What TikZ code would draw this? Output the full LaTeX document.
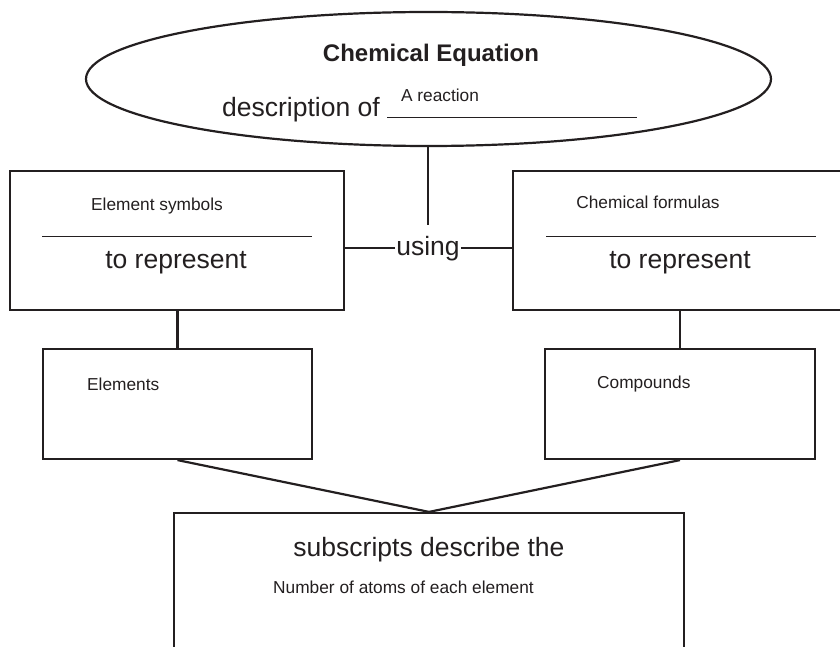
\documentclass[tikz,border=0pt]{standalone}
\usepackage{fontspec}
\setmainfont{Liberation Sans}
\usetikzlibrary{shapes.geometric,positioning}
\definecolor{ink}{HTML}{231F20}

\begin{document}
\begin{tikzpicture}[x=1pt,y=-1pt,color=ink,
 big/.style={font=\fontsize{26.5}{30}\selectfont,inner sep=0pt},
 small/.style={font=\fontsize{17.3}{20}\selectfont,inner sep=0pt},
 frame/.style={draw=ink,line width=2.2pt,inner sep=0pt},
 link/.style={draw=ink,line width=2.2pt},
 rule/.style={draw=ink,line width=1pt}]
 \useasboundingbox (0,0) rectangle (840,647);
 \clip (0,0) rectangle (840,647);
 % top ellipse
 \node[frame,ellipse,minimum width=685pt,minimum height=134pt] (eq) at (428.5,79) {};
 \node[font=\fontsize{24}{28}\selectfont\bfseries,inner sep=0pt] (title) at (431,55) {Chemical Equation};
 \node[big,anchor=base west] (desc) at (222,117) {description of};
 \node[small,anchor=base] (react) at (440,102) {A reaction};
 \draw[rule] (387,117.5) -- (637,117.5);
 % boxes
 \node[frame,minimum width=334pt,minimum height=139pt] (symbols) at (177,240.5) {};
 \node[frame,minimum width=367pt,minimum height=139pt] (formulas) at (696.5,240.5) {};
 \node[frame,minimum width=269pt,minimum height=110pt] (elements) at (177.5,404) {};
 \node[frame,minimum width=270pt,minimum height=110pt] (compounds) at (680,404) {};
 \node[frame,minimum width=510pt,minimum height=200pt] (atoms) at (429,613) {};
 % texts
 \node[small,anchor=base] (symtxt) at (157,211) {Element symbols};
 \draw[rule] (42,236) -- (312,236);
 \node[big,anchor=base] (symrep) at (176,268) {to represent};
 \node[small,anchor=base] (fortxt) at (648,208) {Chemical formulas};
 \draw[rule] (546,236) -- (816,236);
 \node[big,anchor=base] (forrep) at (680,268) {to represent};
 \node[big,anchor=base,inner xsep=1pt,inner ysep=11pt] (using) at (428,255) {using};
 \node[small,anchor=base west] (eltxt) at (87,390) {Elements};
 \node[small,anchor=base west] (comptxt) at (597,388) {Compounds};
 \node[big,anchor=base] (subtxt) at (429,556) {subscripts describe the};
 \node[small,anchor=base west] (numtxt) at (273,593) {Number of atoms of each element};
 % connectors
 \draw[link] (using.north) -- (using.north |- eq.south);
 \draw[link] (using.west) -- (using.west -| symbols.east);
 \draw[link] (using.east) -- (using.east -| formulas.west);
 \draw[link] (elements.north) -- (elements.north |- symbols.south);
 \draw[link] (compounds.north) -- (compounds.north |- formulas.south);
 \draw[link] (elements.south) -- (atoms.north);
 \draw[link] (compounds.south) -- (atoms.north);
\end{tikzpicture}
\end{document}
